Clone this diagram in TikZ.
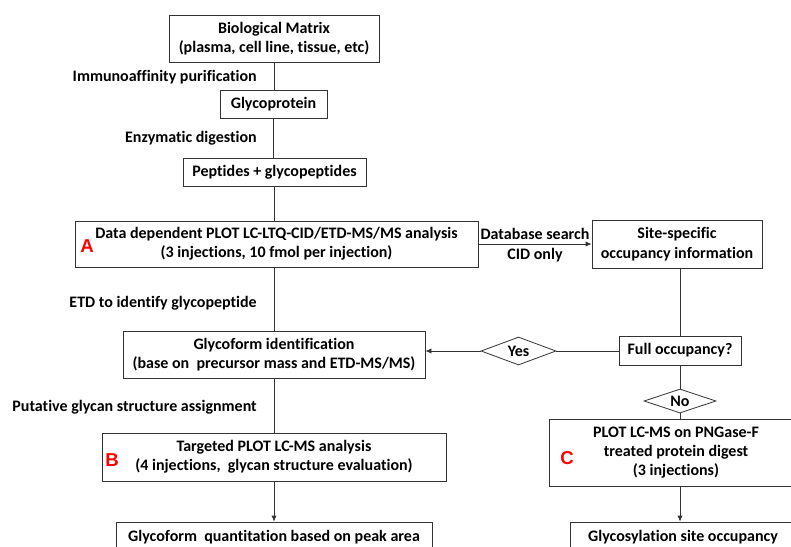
\documentclass[tikz,border=0pt]{standalone}
\usepackage{fontspec}
\setmainfont{Carlito}[Ligatures={TeX,NoCommon}]
\newfontfamily\tagfont{Liberation Sans}
\usepackage{xcolor}
\usepackage{tikz}
\usetikzlibrary{shapes.geometric,arrows.meta}

\begin{document}
\begin{tikzpicture}[x=0.75pt,y=0.75pt,yscale=-1,xscale=1,
    size/.style 2 args={minimum width=#1*0.75pt, minimum height=#2*0.75pt},
    stepbox/.style={draw=black!80, line width=0.6pt, inner sep=0pt, align=center,
        font=\fontsize{12}{14.5}\selectfont\bfseries},
    choice/.style={diamond, draw=black!80, line width=0.6pt, inner sep=0pt, aspect=2.7,
        font=\fontsize{12}{14.5}\selectfont\bfseries},
    note/.style={inner sep=0.75pt, font=\fontsize{12}{14.5}\selectfont\bfseries},
    tag/.style={inner sep=0.75pt, text=red, font=\tagfont\fontsize{14}{14}\selectfont\bfseries},
    link/.style={draw=black!80, line width=0.6pt},
    tip/.style={-{Latex[length=4.5pt,width=4pt]}}]
%set diagram left start at 0, and has height of 546
\path[use as bounding box] (0,0) rectangle (791,546);

        %Rectangles
        \node[stepbox, size={210}{47}] (bio) at (274,38.5) {Biological Matrix\\(plasma, cell line, tissue, etc)};
        \node[stepbox, size={107}{28}] (glycoprot) at (273.5,104) {Glycoprotein};
        \node[stepbox, size={183}{28}] (pep) at (274.5,172) {Peptides + glycopeptides};
        \node[stepbox, size={403}{46}] (plotA) at (276.5,244) {Data dependent PLOT LC-LTQ-CID/ETD-MS/MS analysis\\(3 injections, 10 fmol per injection)};
        \node[stepbox, size={170}{48}] (site) at (677,244) {Site-specific\\occupancy information};
        \node[stepbox, size={302}{47}] (ident) at (274,354.5) {Glycoform identification\\(base on \ precursor mass and ETD-MS/MS)};
        \node[stepbox, size={122}{29}] (full) at (680,350.5) {Full occupancy?};
        \node[stepbox, size={254}{67}] (plotC) at (676,452.5) {PLOT LC-MS on PNGase-F\\treated protein digest\\(3 injections)};
        \node[stepbox, size={344}{48}] (plotB) at (274,457) {Targeted PLOT LC-MS analysis\\(4 injections, \ glycan structure evaluation)};
        \node[stepbox, size={316}{30}] (quant) at (274,537) {Glycoform \ quantitation based on peak area};
        \node[stepbox, size={226}{30}] (gsite) at (683,537) {Glycosylation site occupancy};
        
        %Diamonds
        \node[choice, size={75}{28}] (yes) at (518.5,351) {Yes};
        \node[choice, size={72}{24}] (no) at (680,401) {No};
        
        %Straight Lines
        \draw[link] (bio.south) -- (bio.south |- glycoprot.north);
        \draw[link] (glycoprot) -- (glycoprot |- pep.north);
        \draw[link] (pep) -- (pep |- plotA.north);
        \draw[link] (ident |- plotA.south) -- (ident);
        \draw[link] (ident) -- (plotB);
        \draw[link, tip] (plotB) -- (quant);
        \draw[link, tip] (plotA.east) -- (site.west);
        \draw[link] (full |- site.south) -- (full);
        \draw[link] (full.west |- yes) -- (yes);
        \draw[link, tip] (yes) -- (yes -| ident.east);
        \draw[link] (full) -- (no);
        \draw[link] (no) -- (no |- plotC.north);
        \draw[link, tip] (no |- plotC.south) -- (no |- gsite.north);
        
        %Labels
        \node[note, anchor=east] (immuno) at (258,77) {Immunoaffinity purification};
        \node[note, anchor=east] (enzym) at (258,138) {Enzymatic digestion};
        \node[note, anchor=east] (etd) at (258,303) {ETD to identify glycopeptide};
        \node[note, anchor=east] (putative) at (258,407) {Putative glycan structure assignment};
        \node[note] (dbsearch) at (535,234) {Database search};
        \node[note] (cidonly) at (535,255) {CID only};
        
        \node[tag] (tagA) at (87,246) {A};
        \node[tag] (tagB) at (112,460) {B};
        \node[tag] (tagC) at (567,458) {C};
\end{tikzpicture}
\end{document}
